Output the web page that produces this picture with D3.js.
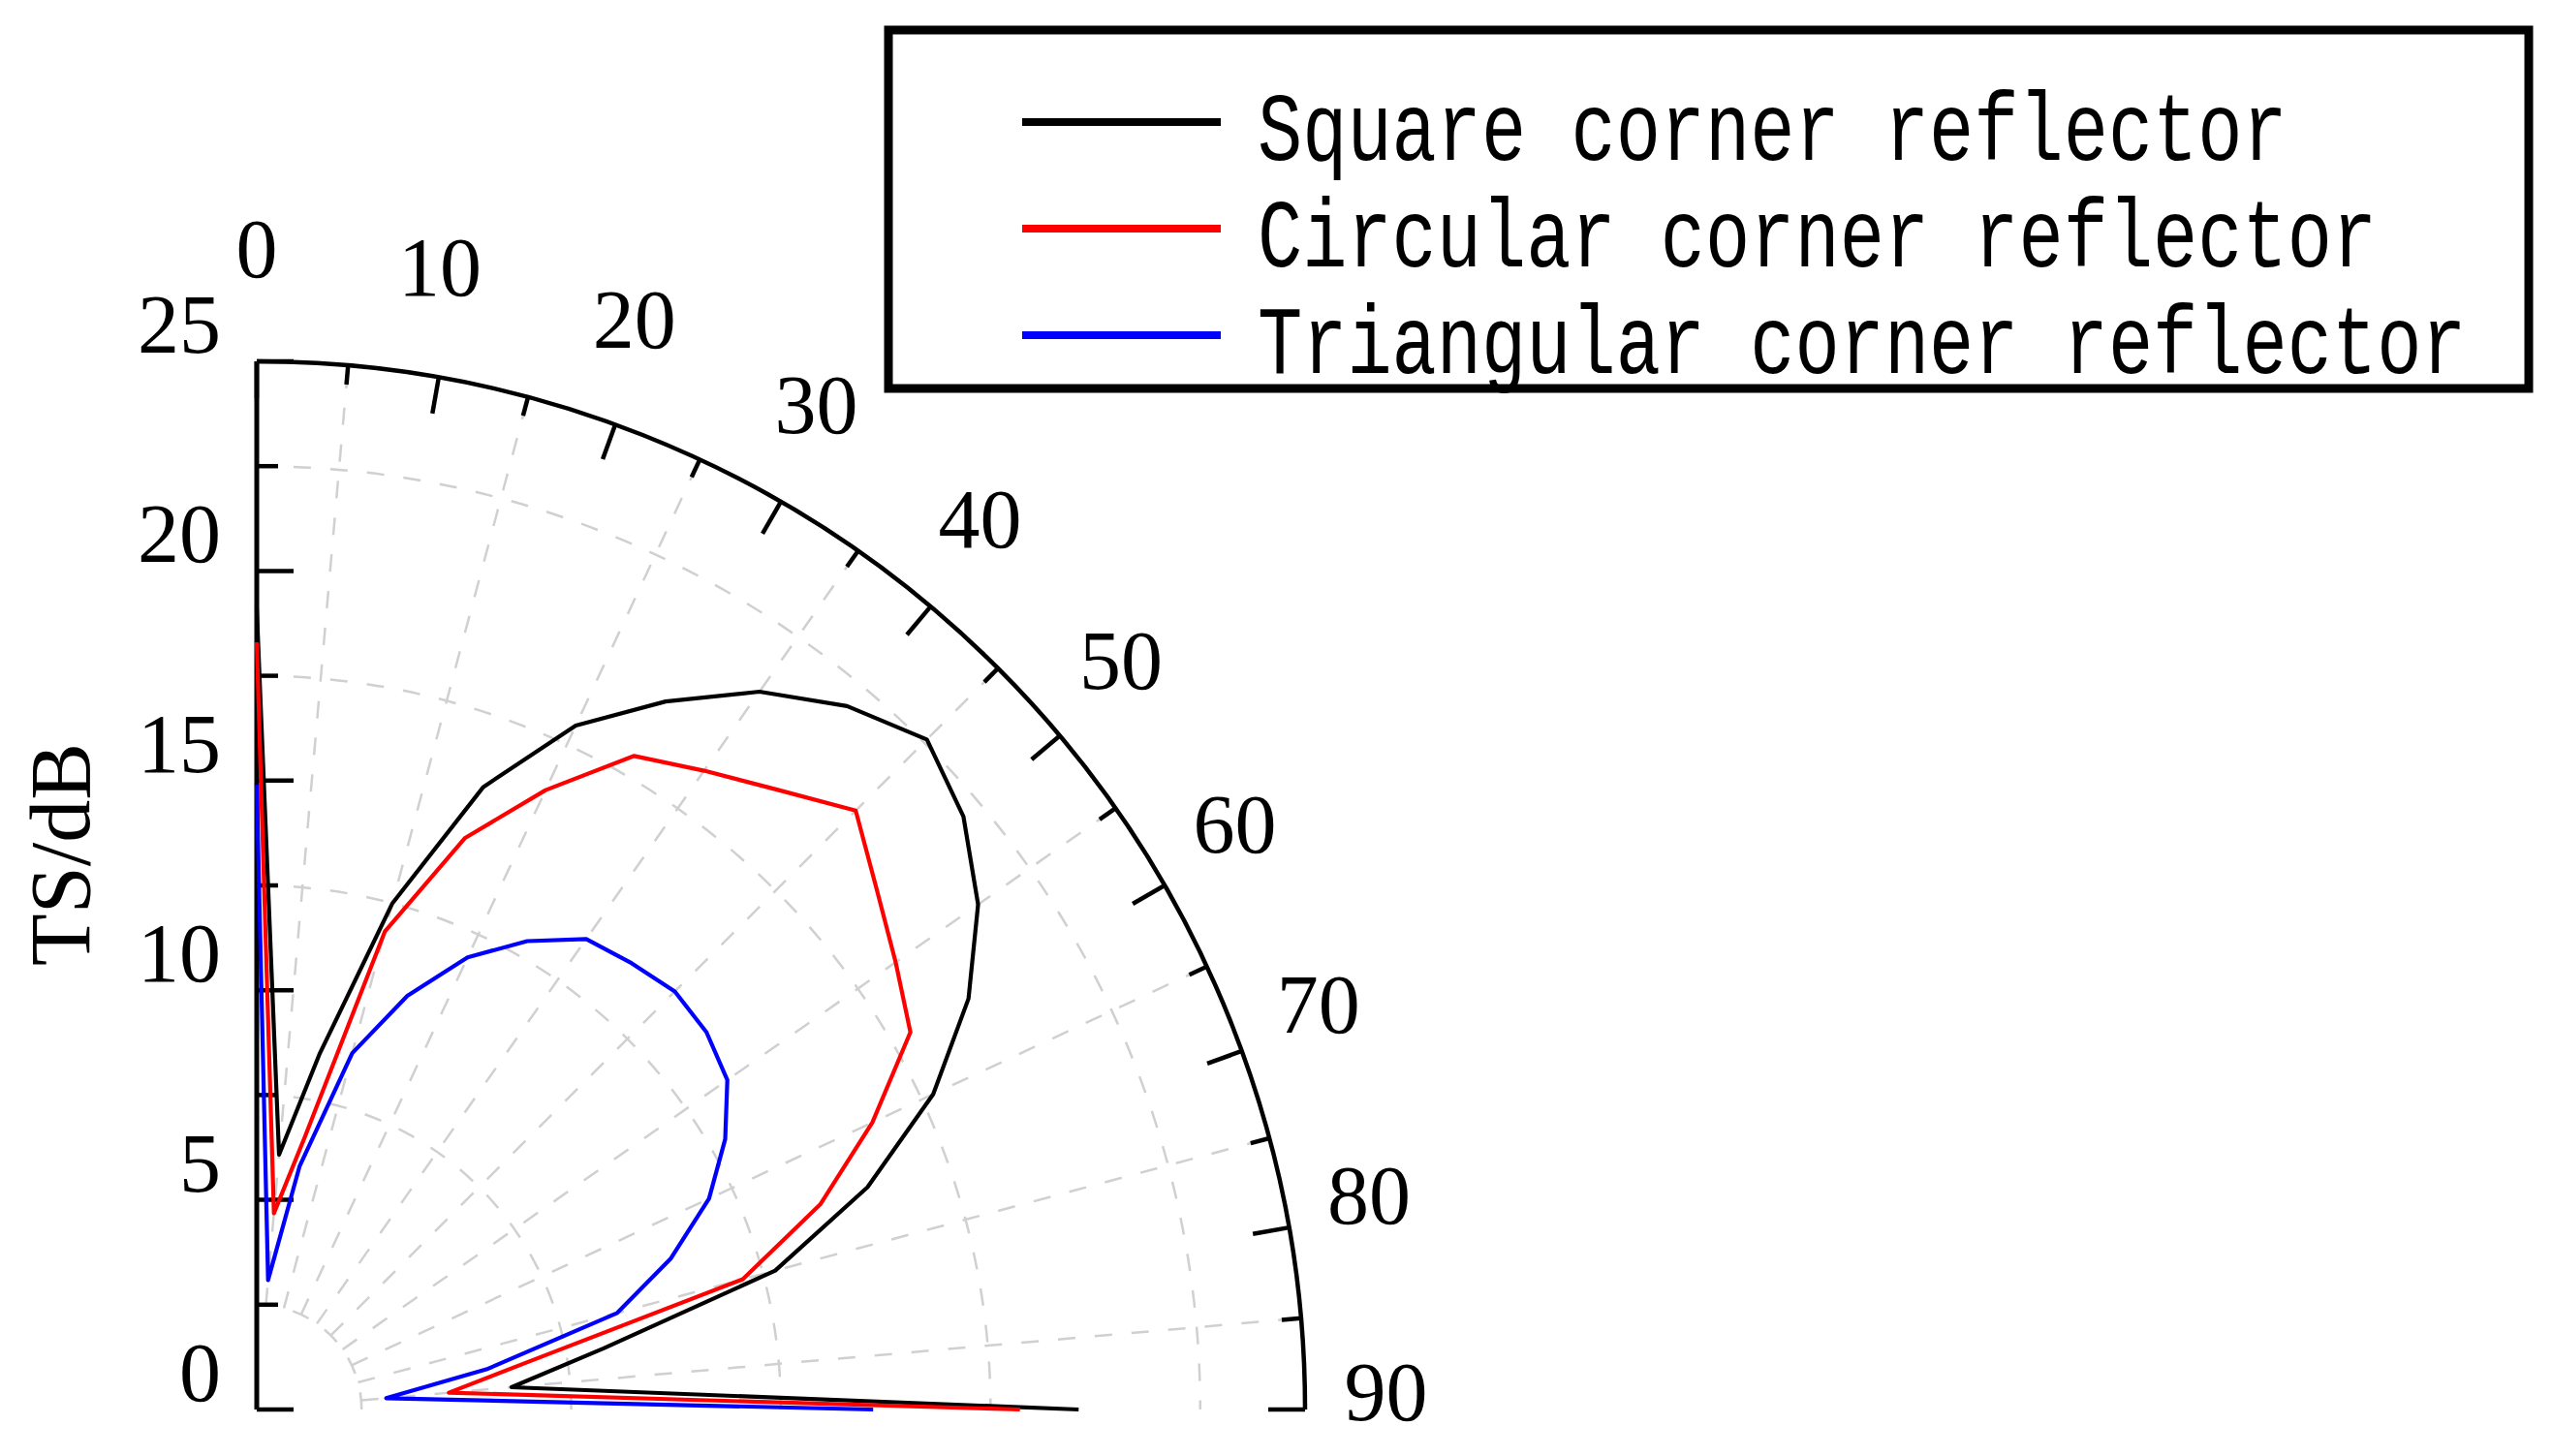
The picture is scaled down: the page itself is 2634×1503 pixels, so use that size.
<!DOCTYPE html>
<html><head><meta charset="utf-8">
<script src="https://cdn.jsdelivr.net/npm/d3@7"></script>
<style>html,body{margin:0;padding:0;background:#fff;} svg{display:block;}</style>
</head><body>
<svg id="chart" width="2634" height="1503"></svg>
<script>
// ---- data ----
const angles = [0, 5, 10, 15, 20, 25, 30, 35, 40, 45, 50, 55, 60, 65, 70, 75, 80, 85, 90];
const squareTS = [19.1, 6.1, 8.6, 12.5, 15.8, 18.0, 19.5, 20.9, 21.9, 22.6, 22.0, 21.0, 19.6, 17.8, 15.5, 12.8, 8.4, 6.1, 19.6];
const circularTS = [18.3, 4.7, 6.6, 11.8, 14.5, 16.3, 18.0, 18.6, 19.3, 20.2, 19.3, 18.6, 18.0, 16.2, 14.3, 12.0, 6.6, 4.6, 18.2];
const triangularTS = [14.9, 3.1, 5.9, 8.8, 10.5, 11.9, 12.9, 13.7, 13.9, 14.1, 14.0, 13.7, 12.9, 11.9, 10.5, 8.9, 5.6, 3.1, 14.7];
const seriesNames = ["Square corner reflector", "Circular corner reflector", "Triangular corner reflector"];
const seriesColors = ["#000000", "#ff0000", "#0000ff"];
const radialTicks = [0, 5, 10, 15, 20, 25];
const radialMinorTicks = [2.5, 7.5, 12.5, 17.5, 22.5];
const angleTicks = [0, 10, 20, 30, 40, 50, 60, 70, 80, 90];
const angleMinorTicks = [5, 15, 25, 35, 45, 55, 65, 75, 85];
const radialTitle = "TS/dB";

// ---- layout ----
const cx = 265, cy = 1455, R = 1082;
const svg = d3.select("#chart");
svg.append("rect").attr("width", 2634).attr("height", 1503).attr("fill", "#fff");

const rScale = d3.scaleLinear().domain([0, 25]).range([0, R]);
const aScale = d3.scaleLinear().domain([0, 90]).range([0, Math.PI / 2]);
const px = (a, r) => r * Math.sin(aScale(a));
const py = (a, r) => -r * Math.cos(aScale(a));

const g = svg.append("g").attr("transform", `translate(${cx},${cy})`);

// grid circles (dashed)
const gridG = g.append("g").attr("fill", "none").attr("stroke", "#d0d0d0")
  .attr("stroke-width", 2.5).attr("stroke-dasharray", "18 20");
radialMinorTicks.forEach(t => {
  const r = rScale(t);
  const p = d3.path();
  p.moveTo(0, -r);
  p.arc(0, 0, r, -Math.PI / 2, 0);
  gridG.append("path").attr("d", p.toString());
});
// grid spokes (start at the innermost grid circle)
const r0 = rScale(radialMinorTicks[0]);
angleMinorTicks.forEach(a => {
  gridG.append("line").attr("x1", px(a, r0)).attr("y1", py(a, r0))
    .attr("x2", px(a, R)).attr("y2", py(a, R));
});

// outer arc (angular axis)
const outer = d3.path();
outer.moveTo(0, -R);
outer.arc(0, 0, R, -Math.PI / 2, 0);
g.append("path").attr("d", outer.toString()).attr("fill", "none")
  .attr("stroke", "#000").attr("stroke-width", 4.5);

// angular ticks (inward)
angleTicks.forEach(a => {
  g.append("line").attr("x1", px(a, R)).attr("y1", py(a, R))
    .attr("x2", px(a, R - 38)).attr("y2", py(a, R - 38))
    .attr("stroke", "#000").attr("stroke-width", 4.5);
});
angleMinorTicks.forEach(a => {
  g.append("line").attr("x1", px(a, R)).attr("y1", py(a, R))
    .attr("x2", px(a, R - 20)).attr("y2", py(a, R - 20))
    .attr("stroke", "#000").attr("stroke-width", 4.5);
});

// angular labels
angleTicks.forEach(a => {
  const aa = a > 0 ? a - 0.9 : a;
  const rr = 1198 - 0.36 * a;
  g.append("text").attr("x", px(aa, rr)).attr("y", py(aa, rr))
    .attr("text-anchor", "middle").attr("dominant-baseline", "central")
    .attr("font-family", "'Liberation Serif', 'Times New Roman', serif")
    .attr("font-size", 86).attr("fill", "#000").text(a);
});

// radial axis (left vertical)
g.append("line").attr("x1", 0).attr("y1", 0).attr("x2", 0).attr("y2", -R)
  .attr("stroke", "#000").attr("stroke-width", 5);
radialTicks.forEach(t => {
  g.append("line").attr("x1", 0).attr("y1", -rScale(t)).attr("x2", 38).attr("y2", -rScale(t))
    .attr("stroke", "#000").attr("stroke-width", 4.5);
  g.append("text").attr("x", -37).attr("y", -rScale(t) - 38)
    .attr("text-anchor", "end").attr("dominant-baseline", "central")
    .attr("font-family", "'Liberation Serif', 'Times New Roman', serif")
    .attr("font-size", 86).attr("fill", "#000").text(t);
});
radialMinorTicks.forEach(t => {
  g.append("line").attr("x1", 0).attr("y1", -rScale(t)).attr("x2", 22).attr("y2", -rScale(t))
    .attr("stroke", "#000").attr("stroke-width", 4.5);
});

// radial title
svg.append("text").attr("transform", `translate(62,${882}) rotate(-90)`)
  .attr("text-anchor", "middle").attr("dominant-baseline", "central")
  .attr("font-family", "'Liberation Serif', 'Times New Roman', serif")
  .attr("font-size", 88).attr("fill", "#000").text(radialTitle);

// data lines
const series = [squareTS, circularTS, triangularTS];
const lineGen = d3.lineRadial()
  .angle(d => aScale(d[0]))
  .radius(d => rScale(d[1]));
series.forEach((vals, i) => {
  const pts = angles.map((a, k) => [a, vals[k]]);
  g.append("path").attr("d", lineGen(pts)).attr("fill", "none")
    .attr("stroke", seriesColors[i]).attr("stroke-width", 4.2)
    .attr("stroke-linejoin", "round");
});

// legend
const lg = svg.append("g");
lg.append("rect").attr("x", 917).attr("y", 31).attr("width", 1693).attr("height", 370)
  .attr("fill", "#fff").attr("stroke", "#000").attr("stroke-width", 9);
seriesNames.forEach((name, i) => {
  const ly = 126 + i * 110;
  lg.append("line").attr("x1", 1055).attr("x2", 1260).attr("y1", ly).attr("y2", ly)
    .attr("stroke", seriesColors[i]).attr("stroke-width", 8);
  lg.append("text").attr("transform", `translate(1298,${ly + 39}) scale(1,1.3)`)
    .attr("font-family", "'Liberation Mono', 'Courier New', monospace")
    .attr("font-size", 77).attr("fill", "#000").text(name);
});
</script>
</body></html>
